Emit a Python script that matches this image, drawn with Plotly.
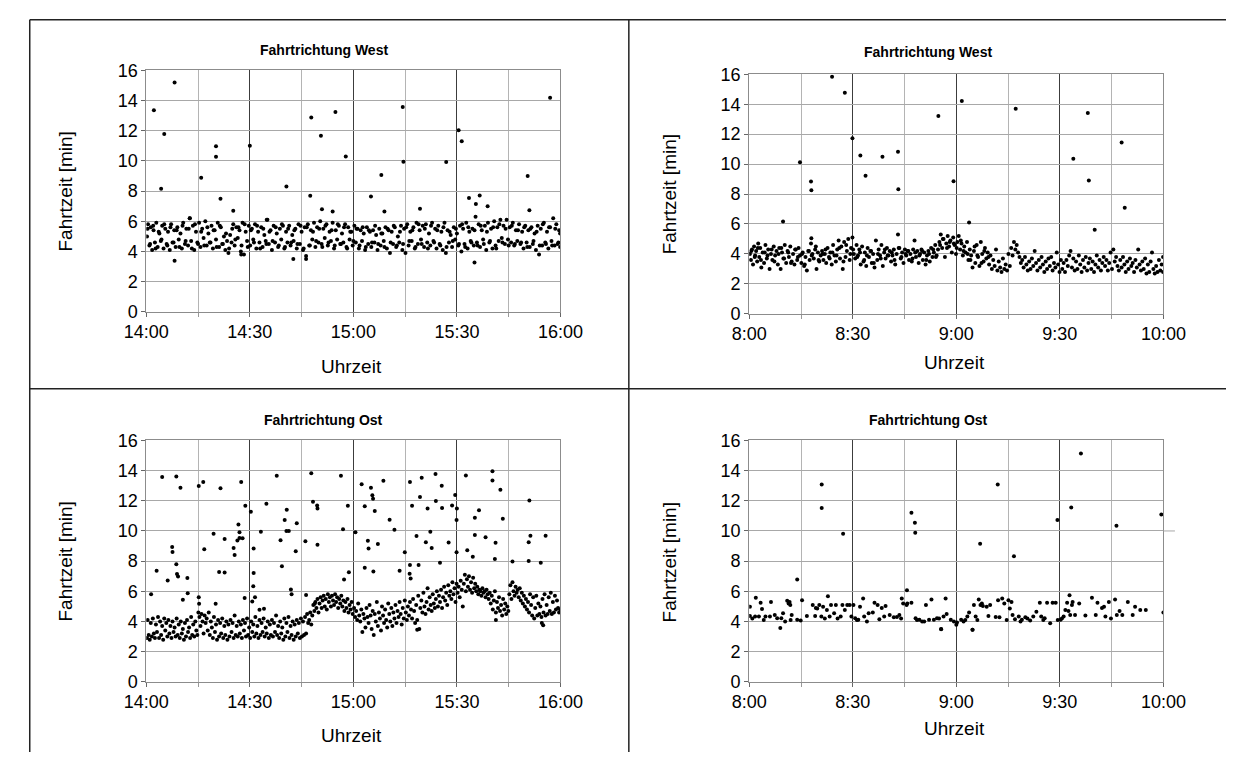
import plotly.graph_objects as go

# ---------------- DATA ----------------
tick_minutes = [0, 30, 60, 90, 120]
x_ticks_pm = ["14:00", "14:30", "15:00", "15:30", "16:00"]
x_ticks_am = ["8:00", "8:30", "9:00", "9:30", "10:00"]
y_ticks = [0, 2, 4, 6, 8, 10, 12, 14, 16]

titles = ["Fahrtrichtung West", "Fahrtrichtung West", "Fahrtrichtung Ost", "Fahrtrichtung Ost"]
x_title = "Uhrzeit"
y_title = "Fahrtzeit [min]"

# Top-left: West, 14:00-16:00 (minutes after 14:00)
tl_band_t = [0.2,0.5,0.9,1.3,1.7,2.1,2.5,2.9,3.3,3.8, 4.2,4.6,5.0,5.5,5.9,6.3,6.8,7.2,7.6,8.1,
             8.5,9.0,9.4,9.9,10.3,10.7,11.2,11.6,12.1,12.6, 13.0,13.5,13.9,14.4,14.8,15.3,15.7,16.2,16.6,17.1,
             17.5,18.0,18.4,18.9,19.3,19.8,20.2,20.7,21.1,21.6, 22.0,22.5,22.9,23.4,23.8,24.3,24.7,25.2,25.6,26.1,
             26.5,27.0,27.4,27.9,28.3,28.8,29.2,29.7,30.1,30.6, 31.0,31.5,31.9,32.4,32.8,33.3,33.7,34.2,34.6,35.1,
             35.5,36.0,36.4,36.9,37.3,37.8,38.2,38.7,39.1,39.6, 40.0,40.5,40.9,41.4,41.8,42.3,42.7,43.2,43.6,44.1,
             44.5,45.0,45.4,45.9,46.3,46.8,47.2,47.7,48.1,48.6, 49.0,49.5,49.9,50.4,50.8,51.3,51.7,52.2,52.6,53.1,
             53.5,54.0,54.4,54.9,55.3,55.8,56.2,56.7,57.1,57.6, 58.0,58.5,58.9,59.4,59.8,60.3,60.7,61.2,61.6,62.1,
             62.5,63.0,63.4,63.9,64.3,64.8,65.2,65.7,66.1,66.6, 67.0,67.5,67.9,68.4,68.8,69.3,69.7,70.2,70.6,71.1,
             71.5,72.0,72.4,72.9,73.3,73.8,74.2,74.7,75.1,75.6, 76.0,76.5,76.9,77.4,77.8,78.3,78.7,79.2,79.6,80.1,
             80.5,81.0,81.4,81.9,82.3,82.8,83.2,83.7,84.1,84.6, 85.0,85.5,85.9,86.4,86.8,87.3,87.7,88.2,88.6,89.1,
             89.5,90.0,90.4,90.9,91.3,91.8,92.2,92.7,93.1,93.6, 94.0,94.5,94.9,95.4,95.8,96.3,96.7,97.2,97.6,98.1,
             98.5,99.0,99.4,99.9,100.3,100.8,101.2,101.7,102.1,102.6, 103.0,103.5,103.9,104.4,104.8,105.3,105.7,106.2,106.6,107.1,
             107.5,108.0,108.4,108.9,109.3,109.8,110.2,110.7,111.1,111.6, 112.0,112.5,112.9,113.4,113.8,114.3,114.7,115.2,115.6,116.1,
             116.5,117.0,117.4,117.9,118.3,118.8,119.2,119.6,119.9,119.9]
tl_band_v = [5.0,5.8,4.4,5.6,4.1,5.4,4.6,5.9,4.3,5.2, 4.7,5.7,4.2,5.5,4.5,5.3,4.1,5.8,4.6,5.4,
             4.3,5.6,4.8,5.2,4.2,5.9,4.5,5.5,4.4,6.2, 4.7,5.7,4.1,5.3,4.6,5.9,4.3,5.5,4.9,6.0,
             4.4,5.2,4.6,5.7,4.2,5.4,4.8,5.9,4.3,5.6, 4.5,5.0,4.1,4.7,3.9,5.1,4.6,5.8,4.4,5.6,
             4.9,5.4,4.0,5.9,3.8,5.3,4.7,5.7,4.4,5.5, 4.8,5.8,4.2,5.3,4.6,5.6,4.3,5.1,4.7,6.1,
             4.5,5.4,4.1,5.7,4.6,5.2,4.3,5.5,4.8,5.7, 4.2,5.3,4.6,5.7,4.4,5.1,4.7,5.5,4.2,5.8,
             4.5,5.3,4.1,5.6,3.7,5.8,4.4,5.4,4.8,5.9, 4.3,5.6,4.6,6.0,4.5,5.5,4.9,5.8,4.4,5.3,
             4.7,5.9,4.2,5.4,4.8,5.7,4.5,5.2,4.6,5.8, 4.3,5.6,4.8,5.3,4.4,5.7,4.6,5.5,4.2,5.4,
             4.7,5.2,4.1,5.6,4.5,5.3,4.3,5.4,4.6,5.1, 4.1,5.5,4.4,5.2,4.7,5.6,4.2,5.4,3.9,5.3,
             4.5,5.6,4.3,5.0,4.6,5.7,4.1,5.5,3.9,5.8, 4.4,5.3,4.7,5.6,4.2,5.9,4.5,5.4,4.8,5.7,
             4.3,5.8,4.6,5.2,4.4,5.9,4.7,5.5,4.2,5.7, 4.5,5.3,4.1,5.9,3.9,5.4,4.6,5.1,4.3,5.6,
             4.8,5.2,4.4,5.7,4.0,5.5,4.5,5.9,4.2,5.3, 4.7,5.5,4.4,6.3,4.6,5.8,4.3,5.4,4.8,5.7,
             4.1,5.9,4.6,5.5,4.2,6.0,4.4,5.6,4.7,6.1, 4.9,5.7,4.5,6.1,4.8,5.6,4.6,5.9,4.4,5.4,
             4.7,5.8,4.5,5.3,4.2,5.7,4.6,5.4,4.3,5.6, 4.5,5.2,4.1,5.7,3.8,5.5,4.4,5.9,4.6,5.3,
             4.2,5.6,4.7,6.2,4.4,5.8,4.5,5.4,4.3,5.2]
tl_extra_t = [0.4,1.1,2.0,2.7,3.6,4.4,5.2,6.1,7.0,7.9, 8.8,9.6,10.5,11.4,12.3,13.2,14.1,15.0,15.9,16.8,
              17.7,18.6,19.5,20.4,21.3,22.2,23.1,24.0,24.9,25.8, 26.7,27.6,28.5,29.4,30.3,31.2,32.1,33.0,33.9,34.8,
              35.7,36.6,37.5,38.4,39.3,40.2,41.1,42.0,42.9,43.8, 44.7,45.6,46.5,47.4,48.3,49.2,50.1,51.0,51.9,52.8,
              53.7,54.6,55.5,56.4,57.3,58.2,59.1,60.0,60.9,61.8, 62.7,63.6,64.5,65.4,66.3,67.2,68.1,69.0,69.9,70.8,
              71.7,72.6,73.5,74.4,75.3,76.2,77.1,78.0,78.9,79.8, 80.7,81.6,82.5,83.4,84.3,85.2,86.1,87.0,87.9,88.8,
              89.7,90.6,91.5,92.4,93.3,94.2,95.1,96.0,96.9,97.8, 98.7,99.6,100.5,101.4,102.3,103.2,104.1,105.0,105.9,106.8,
              107.7,108.6,109.5,110.4,111.3,112.2,113.1,114.0,114.9,115.8, 116.7,117.6,118.5,119.4]
tl_extra_v = [5.5,4.5,5.7,4.2,5.3,4.8,5.8,4.4,5.6,4.6, 5.4,4.3,5.7,4.7,5.5,4.2,5.8,4.5,5.3,4.4,
              5.6,4.6,5.4,4.3,5.7,4.5,5.2,4.2,5.5,4.8, 5.6,4.4,5.8,4.3,5.4,4.6,5.7,4.2,5.5,4.5,
              5.3,4.7,5.6,4.4,5.8,4.3,5.5,4.6,5.4,4.5, 5.7,4.2,5.6,4.4,5.3,4.7,5.5,4.3,5.7,4.6,
              5.4,4.4,5.8,4.5,5.6,4.2,5.3,4.7,5.5,4.4, 5.6,4.3,5.4,4.6,5.7,4.5,5.2,4.3,5.5,4.6,
              5.7,4.4,5.3,4.5,5.6,4.7,5.4,4.3,5.8,4.5, 5.5,4.2,5.7,4.6,5.4,4.4,5.6,4.3,5.3,4.7,
              5.5,4.5,5.8,4.3,5.6,4.6,5.4,4.4,5.7,4.5, 5.3,4.7,5.6,4.2,5.8,4.6,5.5,4.4,5.7,4.5,
              5.4,4.6,5.6,4.3,5.5,4.7,5.3,4.4,5.8,4.5, 5.6,4.4,5.5,4.6]
tl_out_t = [2.2,5.2,4.3,8.2,8.2,15.9,20.2,20.2,21.5,25.2,30.0,40.6,42.6,46.3,47.5,47.8,50.6,50.9,54.0,54.8,57.8,
            65.1,68.1,69.0,74.3,74.5,79.3,86.9,90.5,91.4,93.5,95.5,96.6,98.9,95.1,110.5,111.0,117.0,12.6,34.9,27.5]
tl_out_v = [13.35,11.78,8.16,15.2,3.38,8.89,10.98,10.27,7.49,6.7,11.0,8.31,3.51,3.5,7.69,12.88,11.67,6.8,6.65,13.24,10.29,
            7.64,9.07,6.65,13.57,9.95,6.83,9.93,12.04,11.3,7.54,7.15,7.71,7.0,3.27,9.0,6.74,14.19,6.2,6.1,3.8]

# Top-right: West, 8:00-10:00 (minutes after 8:00)
tr_band_t = [0.2,0.5,0.8,1.1,1.4,1.7,2.0,2.3,2.6,2.9, 3.2,3.5,3.9,4.3,4.7,5.1,5.5,5.9,6.3,6.7,
             7.1,7.5,7.9,8.3,8.7,9.1,9.5,9.9,10.3,10.7, 11.1,11.5,11.9,12.3,12.7,13.1,13.5,13.9,14.3,14.7,
             15.1,15.5,15.9,16.3,16.7,17.1,17.5,17.9,18.3,18.7, 19.1,19.5,19.9,20.3,20.7,21.1,21.5,21.9,22.3,22.7,
             23.1,23.5,23.9,24.3,24.7,25.1,25.5,25.9,26.3,26.7, 27.1,27.5,27.9,28.3,28.7,29.1,29.5,29.9,30.3,30.7,
             31.1,31.5,31.9,32.3,32.7,33.1,33.5,33.9,34.3,34.7, 35.1,35.5,35.9,36.3,36.7,37.1,37.5,37.9,38.3,38.7,
             39.1,39.5,39.9,40.3,40.7,41.1,41.5,41.9,42.3,42.7, 43.1,43.5,43.9,44.3,44.7,45.1,45.5,45.9,46.3,46.7,
             47.1,47.5,47.9,48.3,48.7,49.1,49.5,49.9,50.3,50.7, 51.1,51.5,51.9,52.3,52.7,53.1,53.5,53.9,54.3,54.7,
             55.1,55.5,55.9,56.3,56.7,57.1,57.5,57.9,58.3,58.7, 59.1,59.5,59.9,60.3,60.7,61.1,61.5,61.9,62.3,62.7,
             63.1,63.5,63.9,64.3,64.7,65.1,65.5,65.9,66.3,66.7, 67.1,67.5,67.9,68.3,68.7,69.1,69.5,69.9,70.3,70.7,
             71.1,71.5,71.9,72.3,72.7,73.1,73.5,73.9,74.3,74.7, 75.1,75.5,75.9,76.3,76.7,77.1,77.5,77.9,78.3,78.7,
             79.1,79.5,79.9,80.3,80.7,81.1,81.5,81.9,82.3,82.7, 83.1,83.5,83.9,84.3,84.7,85.1,85.5,85.9,86.3,86.7,
             87.1,87.5,87.9,88.3,88.7,89.1,89.5,89.9,90.3,90.7, 91.1,91.5,91.9,92.3,92.7,93.1,93.5,93.9,94.3,94.7,
             95.1,95.5,95.9,96.3,96.7,97.1,97.5,97.9,98.3,98.7, 99.1,99.5,99.9,100.3,100.7,101.1,101.5,101.9,102.3,102.7,
             103.1,103.5,103.9,104.3,104.7,105.1,105.5,105.9,106.3,106.7, 107.1,107.5,107.9,108.3,108.7,109.1,109.5,109.9,110.3,110.7,
             111.1,111.5,111.9,112.3,112.7,113.1,113.5,113.9,114.3,114.7, 115.1,115.5,115.9,116.3,116.7,117.1,117.5,117.9,118.3,118.7,
             119.1,119.5,119.9,119.9]
tr_band_v = [4.0,3.6,4.3,3.3,4.5,3.9,4.2,3.5,4.7,3.8, 4.4,3.1,4.1,3.4,4.6,3.7,4.3,3.0,4.0,3.6,
             4.5,3.9,4.2,3.3,4.4,3.0,4.1,3.7,4.6,3.4, 4.2,3.8,4.5,3.5,4.0,3.3,4.3,3.6,4.4,3.9,
             3.4,4.1,3.2,3.8,2.9,4.2,3.6,4.7,4.0,3.7, 4.3,3.0,4.1,3.5,3.9,4.2,3.6,4.0,3.4,4.4,
             3.8,4.1,3.3,4.6,3.9,3.5,4.3,4.9,3.7,4.5, 3.0,4.8,3.8,4.2,5.0,3.6,4.4,5.1,4.0,3.7,
             4.6,3.9,4.3,3.3,4.5,3.5,4.1,3.2,4.4,3.8, 4.2,3.4,4.0,3.1,4.9,3.6,4.3,3.9,4.6,3.2,
             4.1,3.7,4.4,3.9,4.2,3.5,3.9,4.3,3.3,4.0, 5.3,4.4,3.7,4.1,3.4,4.3,3.9,4.2,3.6,4.0,
             3.5,4.3,4.9,3.8,4.2,3.4,4.0,4.3,3.6,4.1, 3.3,3.9,4.2,3.5,4.4,3.8,4.1,4.6,3.9,4.3,
             4.8,5.3,4.4,5.0,3.8,4.7,5.2,4.5,4.9,4.1, 5.1,4.6,4.0,4.8,5.2,4.3,4.7,3.9,4.5,4.1,
             4.8,3.6,4.3,3.9,3.1,4.2,3.4,4.6,3.8,3.2, 4.8,4.0,3.5,4.4,3.7,4.1,3.3,3.9,3.0,3.6,
             3.2,4.3,2.9,3.5,3.1,2.8,3.7,3.0,3.3,2.9, 4.0,3.2,4.4,3.9,4.8,4.3,4.6,4.1,3.8,3.4,
             3.6,3.1,3.8,3.3,2.9,3.5,3.0,3.7,3.2,4.2, 3.4,2.9,3.6,3.1,3.8,3.3,2.8,3.5,3.0,3.7,
             3.2,3.8,2.9,3.4,3.1,4.1,3.3,2.8,3.6,3.0, 3.4,2.8,3.6,3.2,3.9,4.2,3.1,3.7,2.9,3.5,
             3.0,3.9,3.3,2.8,3.6,3.1,3.8,2.9,3.4,3.7, 3.0,3.5,2.8,3.3,3.9,3.1,3.6,2.9,3.4,3.8,
             3.2,3.6,2.9,3.4,4.1,3.0,4.3,3.5,3.8,3.2, 2.9,3.6,3.1,3.8,3.3,2.8,3.5,3.0,3.7,3.2,
             3.4,2.8,3.6,3.1,4.3,3.3,2.9,3.5,3.0,3.7, 2.7,3.3,2.8,3.5,4.1,3.0,2.7,3.2,2.8,3.6,
             2.9,3.3,2.8,3.8]
tr_extra_t = [0.6,1.6,2.5,3.4,4.5,5.3,6.5,7.3,8.5,9.3, 10.1,11.3,12.1,13.3,14.1,15.3,16.1,17.3,18.1,19.3,
              20.1,21.3,22.1,23.3,24.1,25.3,26.1,27.3,28.1,29.3, 30.1,31.3,32.1,33.3,34.1,35.3,36.1,37.3,38.1,39.3,
              40.1,41.3,42.1,43.3,44.1,45.3,46.1,47.3,48.1,49.3, 50.1,51.3,52.1,53.3,54.1,55.3,56.1,57.3,58.1,59.3,
              60.1,61.3,62.1,63.3,64.1,65.3,66.1,67.3,68.1,69.3]
tr_extra_v = [4.2,3.8,4.4,3.6,4.1,3.9,4.3,3.5,4.0,4.4, 3.7,4.1,3.4,4.3,3.8,4.0,3.3,4.2,3.9,4.5,
              3.6,4.0,4.3,3.7,4.1,3.9,4.4,3.5,4.6,4.0, 4.3,3.8,4.1,3.6,3.9,4.2,3.4,4.0,3.7,4.3,
              3.9,4.1,3.6,4.4,3.8,4.0,4.2,3.7,4.1,3.9, 4.2,3.6,4.0,4.3,3.8,4.6,5.0,4.4,4.8,4.7,
              4.4,4.9,4.2,4.0,3.6,4.5,3.9,3.4,4.2,3.8]
tr_out_t = [9.8,14.7,17.9,18.0,18.0,24.0,27.7,29.9,32.2,33.7,38.6,43.1,43.2,54.8,59.2,61.6,63.7,77.2,
            93.9,98.1,98.4,100.1,107.9,108.8]
tr_out_v = [6.16,10.12,8.84,8.26,5.05,15.83,14.77,11.72,10.57,9.23,10.49,10.83,8.32,13.21,8.86,14.21,6.10,13.69,
            10.36,13.41,8.91,5.62,11.44,7.09]

# Bottom-left: Ost, 14:00-16:00
bl_band_t = [0.2,0.4,0.7,1.0,1.3,1.6,1.9,2.2,2.5,2.8, 3.1,3.4,3.7,4.0,4.3,4.6,4.9,5.2,5.5,5.8,
             6.1,6.4,6.7,7.0,7.3,7.6,7.9,8.2,8.5,8.8, 9.1,9.4,9.7,10.0,10.3,10.6,10.9,11.2,11.5,11.8,
             12.1,12.4,12.7,13.0,13.3,13.6,13.9,14.2,14.5,14.8, 15.1,15.4,15.7,16.0,16.3,16.6,16.9,17.2,17.5,17.8,
             18.1,18.4,18.7,19.0,19.3,19.6,19.9,20.2,20.5,20.8, 21.1,21.4,21.7,22.0,22.3,22.6,22.9,23.2,23.5,23.8,
             24.1,24.4,24.7,25.0,25.3,25.6,25.9,26.2,26.5,26.8, 27.1,27.4,27.7,28.0,28.3,28.6,28.9,29.2,29.5,29.8,
             30.1,30.4,30.7,31.0,31.3,31.6,31.9,32.2,32.5,32.8, 33.1,33.4,33.7,34.0,34.3,34.6,34.9,35.2,35.5,35.8,
             36.1,36.4,36.7,37.0,37.3,37.6,37.9,38.2,38.5,38.8, 39.1,39.4,39.7,40.0,40.3,40.6,40.9,41.2,41.5,41.8,
             42.1,42.4,42.7,43.0,43.3,43.6,43.9,44.2,44.5,44.8, 45.1,45.4,45.7,46.0,46.3,46.6,46.9,47.2,47.5,47.8,
             48.1,48.4,48.7,49.0,49.3,49.6,49.9,50.2,50.5,50.8, 51.1,51.4,51.7,52.0,52.3,52.6,52.9,53.2,53.5,53.8,
             54.1,54.4,54.7,55.0,55.3,55.6,55.9,56.2,56.5,56.8, 57.1,57.4,57.7,58.0,58.3,58.6,58.9,59.2,59.5,59.8,
             60.2,60.5,60.8,61.1,61.4,61.7,62.0,62.3,62.6,62.9, 63.2,63.5,63.8,64.1,64.4,64.7,65.0,65.3,65.6,65.9,
             66.2,66.5,66.8,67.1,67.4,67.7,68.0,68.3,68.6,68.9, 69.2,69.5,69.8,70.1,70.4,70.7,71.0,71.3,71.6,71.9,
             72.2,72.5,72.8,73.1,73.4,73.7,74.0,74.3,74.6,74.9, 75.2,75.5,75.8,76.1,76.4,76.7,77.0,77.3,77.6,77.9,
             78.2,78.5,78.8,79.1,79.4,79.7,80.0,80.3,80.6,80.9, 81.2,81.5,81.8,82.1,82.4,82.7,83.0,83.3,83.6,83.9,
             84.2,84.5,84.8,85.1,85.4,85.7,86.0,86.3,86.6,86.9, 87.2,87.5,87.8,88.1,88.4,88.7,89.0,89.3,89.6,89.9,
             90.2,90.5,90.8,91.1,91.4,91.7,92.0,92.3,92.6,92.9, 93.2,93.5,93.8,94.1,94.4,94.7,95.0,95.3,95.6,95.9,
             96.2,96.5,96.8,97.1,97.4,97.7,98.0,98.3,98.6,98.9, 99.2,99.5,99.8,100.1,100.4,100.7,101.0,101.3,101.6,101.9,
             102.2,102.5,102.8,103.1,103.4,103.7,104.0,104.3,104.6,104.9, 105.2,105.5,105.8,106.1,106.4,106.7,107.0,107.3,107.6,107.9,
             108.2,108.5,108.8,109.1,109.4,109.7,110.0,110.3,110.6,110.9, 111.2,111.5,111.8,112.1,112.4,112.7,113.0,113.3,113.6,113.9,
             114.2,114.5,114.8,115.1,115.4,115.7,116.0,116.3,116.6,116.9, 117.2,117.5,117.8,118.1,118.4,118.7,119.0,119.3,119.6,119.9]
bl_band_v = [2.9,4.1,3.1,2.8,3.9,3.0,4.2,3.2,2.9,3.8, 3.3,4.3,2.9,4.0,3.1,3.7,2.8,4.2,3.4,3.9,
             3.0,4.1,3.2,3.7,2.9,4.0,3.3,3.6,3.0,4.2, 3.1,3.8,2.9,4.0,3.2,3.5,2.8,3.9,3.0,4.1,
             3.3,3.6,2.9,4.3,3.1,3.8,3.0,4.0,3.4,3.1, 4.6,4.3,3.7,4.5,4.0,3.2,4.4,3.9,4.2,3.4,
             4.6,3.1,4.0,3.6,2.9,4.3,3.3,3.8,2.8,4.1, 3.0,3.9,3.2,4.2,2.9,3.7,3.1,4.0,2.8,3.8,
             3.0,4.1,3.3,3.9,2.9,4.4,3.1,3.7,3.0,4.0, 3.2,3.8,2.9,4.1,3.4,3.9,3.0,4.2,3.1,3.6,
             2.9,4.0,3.3,3.8,3.0,4.3,3.2,3.7,2.9,4.1, 3.1,3.9,3.3,4.2,3.0,3.6,3.2,4.0,2.9,3.8,
             3.1,4.1,3.0,3.9,3.3,4.4,3.1,3.7,2.9,4.0, 3.2,3.6,2.8,4.2,3.0,3.9,3.3,4.3,2.9,3.7,
             3.1,4.0,2.8,3.8,3.0,4.1,3.2,3.9,2.9,4.2, 3.0,4.0,3.1,4.3,3.2,4.5,3.9,4.1,4.6,3.8,
             4.4,5.1,4.7,5.3,4.9,5.5,4.6,5.2,5.6,4.9, 5.4,5.7,5.0,5.5,4.8,5.8,5.3,5.6,5.0,5.7,
             5.4,5.1,5.8,5.3,5.6,4.9,5.5,5.2,5.7,5.0, 5.4,4.7,5.3,4.9,5.5,4.6,5.1,4.8,5.3,4.5,
             4.9,4.3,4.7,4.1,5.2,4.4,4.0,4.8,3.3,4.5, 4.2,3.6,4.9,4.3,3.9,5.1,4.4,3.5,4.7,3.1,
             4.5,4.0,5.3,3.7,4.6,4.2,3.4,5.0,4.4,3.9, 4.8,4.1,3.6,5.2,4.5,4.0,4.9,3.7,4.6,4.2,
             5.1,3.9,4.7,4.3,5.3,4.5,3.8,4.9,4.2,5.4, 4.6,4.1,5.0,4.4,5.3,4.8,4.2,5.5,4.7,3.9,
             5.1,4.1,5.7,3.5,4.9,5.4,4.6,5.9,5.0,4.5, 5.3,6.2,4.8,5.6,5.1,4.7,5.8,5.2,4.9,5.5,
             6.0,5.0,5.7,5.3,6.1,4.9,5.6,6.3,5.4,5.9, 5.1,6.4,5.7,6.0,5.5,6.6,5.8,6.2,5.3,6.5,
             5.9,6.3,5.6,6.7,6.1,5.0,6.5,7.1,6.0,6.8, 6.3,7.0,6.1,6.6,5.9,6.9,6.2,6.5,6.0,6.3,
             5.8,6.1,6.0,5.7,6.2,5.9,6.0,5.6,6.1,5.8, 5.5,5.9,5.2,5.7,4.8,5.4,6.0,4.6,5.3,4.9,
             5.6,4.7,5.1,4.4,5.5,4.8,5.2,4.5,5.0,4.7, 5.8,6.4,5.5,6.6,6.0,5.7,6.3,5.9,6.1,5.6,
             6.2,5.4,5.9,5.2,5.7,5.0,5.5,4.8,5.3,4.6, 5.8,5.1,4.4,5.6,4.2,4.9,5.7,4.4,5.2,4.5,
             5.0,4.3,5.5,4.6,5.8,4.4,5.1,4.5,5.6,4.7, 5.9,4.5,5.3,4.6,5.7,4.8,5.4,4.9,4.6,4.8]
bl_out_t = [1.4,3.0,4.6,6.2,7.5,7.6,8.7,8.7,8.9,9.2,9.9,10.6,11.9,12.0,15.2,15.2,15.3,16.5,16.8,19.5,20.1,21.1,21.5,
            22.7,22.7,25.3,25.6,26.4,26.7,27.0,27.0,27.5,27.9,28.5,28.7,30.3,31.1,31.1,31.0,30.7,31.5,32.8,33.2,34.1,
            34.8,37.8,38.9,39.3,40.1,40.7,40.6,41.3,41.9,42.1,43.3,43.6,46.1,46.3,47.8,48.3,49.5,49.6,49.6,
            56.4,57.0,57.3,58.4,58.7,60.6,62.4,63.3,64.2,64.4,63.3,65.1,65.5,65.7,65.8,66.2,67.1,68.7,70.5,71.9,
            73.4,74.9,76.3,76.4,76.4,76.6,77.0,78.3,78.9,79.3,79.8,81.0,81.5,82.3,82.7,83.8,83.9,85.1,85.6,85.7,
            87.6,88.6,89.5,89.9,90.0,89.9,92.6,93.0,94.6,95.2,95.2,96.4,98.3,100.3,100.3,101.0,101.2,102.6,103.3,
            106.1,111.0,110.8,111.3,110.8,114.3,115.7,101.3,114.6,115.0,48.8,78.5]
bl_out_v = [5.81,7.36,13.57,6.72,8.94,8.61,13.61,7.80,7.15,6.98,12.86,5.45,6.89,5.88,12.98,5.60,5.17,13.24,8.79,9.82,5.17,
            7.28,12.83,7.24,9.47,8.87,8.40,9.37,10.42,9.91,9.54,13.24,9.52,5.56,11.67,11.28,8.83,7.21,6.33,5.32,5.60,4.78,
            9.95,4.84,11.80,13.65,9.39,7.67,10.72,11.41,9.99,9.99,6.12,5.81,8.66,10.51,9.32,5.75,13.82,11.93,11.69,11.48,
            9.09,13.65,10.12,6.78,11.67,7.26,9.91,13.09,11.63,9.35,8.83,7.56,12.86,12.36,12.14,7.32,11.33,9.13,13.33,
            10.75,10.08,7.36,8.59,7.17,13.24,7.75,6.85,11.67,9.67,7.75,12.25,13.52,9.26,11.48,9.95,8.87,13.78,11.99,
            7.90,13.0,11.52,9.24,11.69,12.38,10.72,11.48,8.59,13.67,8.72,8.29,10.87,9.73,11.37,9.58,13.95,13.35,8.14,
            9.22,12.73,10.81,7.97,12.02,9.26,9.69,8.01,7.90,9.69,4.1,3.9,3.75,5.17,3.45]

# Bottom-right: Ost, 8:00-10:00
br_band_t = [0.2,0.2,1.9,1.7,3.3,3.7,2.8,4.7,6.3,6.0,7.4,8.1,9.0,9.3,9.8,11.0,11.4,11.9,12.3,13.9,13.9,14.9,15.3,
             16.7,18.4,19.1,19.7,20.3,20.9,21.4,22.5,22.8,23.3,23.7,24.6,25.1,26.5,27.0,27.7,28.4,29.6,30.2,30.7,
             31.6,32.1,33.0,33.3,34.6,35.8,36.3,37.2,37.7,39.1,39.5,40.7,41.9,43.5,44.2,44.6,45.8,47.0,48.2,49.3,
             50.7,51.2,52.1,52.8,53.5,54.4,55.6,56.3,56.9,57.2,58.4,60.0,60.2,61.4,62.1,63.2,63.7,64.7,65.1,65.6,
             66.5,67.0,67.7,68.8,69.3,69.8,72.1,72.5,73.3,73.9,75.1,75.5,76.3,77.0,78.1,79.0,80.0,81.4,82.3,83.2,
             84.2,84.6,85.6,86.3,87.2,87.9,88.8,90.2,91.1,91.6,92.1,92.8,93.0,93.7,94.4,95.6,99.3,100.4,100.9,102.8,
             103.2,104.2,106.0,106.5,108.1,109.7,111.1,111.8,113.3,114.9,120.0,
             0.9,4.2,10.4,11.7,12.0,19.3,21.9,25.6,29.1,31.2,34.1,38.4,42.8,44.0,45.6,48.6,50.1,55.0,59.3,62.6,
             66.1,67.4,71.4,74.6,76.0,78.6,80.6,85.2,89.4,90.6,92.5,93.5,97.4,102.2,104.8,107.3]
br_band_v = [4.98,4.37,5.57,4.33,5.24,4.83,4.33,4.33,5.3,4.33,4.43,4.22,3.57,4.22,4.54,5.37,5.2,5.09,4.43,6.78,4.11,4.07,5.41,
             4.37,5.09,4.37,4.87,5.09,4.33,4.98,4.76,5.67,4.33,5.09,4.54,5.09,4.33,5.09,4.76,5.09,4.33,5.09,4.22,
             4.11,4.98,5.52,4.33,4.54,4.59,5.24,5.09,4.15,4.33,5.02,4.43,4.28,4.43,5.52,5.2,5.2,5.24,4.22,4.11,
             4.0,5.09,4.11,5.46,4.11,4.22,3.5,4.33,5.52,4.5,4.11,3.78,3.93,4.11,4.0,4.33,4.59,3.46,5.09,4.33,
             5.46,5.09,5.02,4.98,4.37,5.09,5.41,4.28,5.52,5.2,5.41,4.87,4.43,4.15,4.33,4.11,4.28,4.07,4.33,4.65,
             5.24,4.33,4.22,5.24,3.89,5.24,5.24,4.11,4.33,4.76,5.24,5.74,4.43,5.3,4.43,5.2,5.57,4.43,5.24,4.98,
             4.33,5.3,5.46,4.43,4.43,5.3,4.43,4.98,4.76,4.76,4.59,
             4.2,4.1,4.0,5.3,4.1,4.9,4.2,4.2,5.1,4.1,4.0,4.9,4.3,4.2,5.1,4.1,4.0,4.2,4.0,4.1,
             4.1,5.2,4.3,4.1,5.3,4.0,4.2,4.1,4.1,4.2,4.7,5.1,4.4,4.9,4.2,4.7]
br_out_t = [21.0,21.0,27.2,45.7,47.0,48.0,48.1,66.9,72.0,76.7,89.3,93.3,96.1,106.4,119.4,55.6,64.7]
br_out_v = [13.07,11.52,9.82,6.07,11.2,10.55,9.88,9.15,13.07,8.33,10.72,11.56,15.14,10.34,11.09,3.49,3.45]

# ---------------- LAYOUT HELPERS ----------------
W, H = 1249, 762

def px(x):
    return x / W

def py(y):
    return 1 - y / H

panels = [
    dict(t=tl_band_t + tl_extra_t + tl_out_t, v=tl_band_v + tl_extra_v + tl_out_v, ticks=x_ticks_pm,
         xd=[px(128), px(558)], yd=[py(310), py(62)],
         title=(312, 41), xt=(341, 366), yt=(44, 186)),
    dict(t=tr_band_t + tr_extra_t + tr_out_t, v=tr_band_v + tr_extra_v + tr_out_v, ticks=x_ticks_am,
         xd=[px(754), px(1184)], yd=[py(312), py(66)],
         title=(940, 43), xt=(967, 362), yt=(671, 189)),
    dict(t=bl_band_t + bl_out_t, v=bl_band_v + bl_out_v, ticks=x_ticks_pm,
         xd=[px(128), px(558)], yd=[py(690), py(442)],
         title=(312, 421), xt=(341, 745), yt=(44, 566)),
    dict(t=br_band_t + br_out_t, v=br_band_v + br_out_v, ticks=x_ticks_am,
         xd=[px(754), px(1184)], yd=[py(690), py(442)],
         title=(940, 421), xt=(967, 738), yt=(671, 567)),
]

FONT = "Liberation Sans, Arial, sans-serif"
fig = go.Figure()
annotations = []
layout_axes = {}

for i, p in enumerate(panels):
    n = "" if i == 0 else str(i + 1)
    fig.add_trace(go.Scatter(
        x=p["t"], y=p["v"], mode="markers",
        marker=dict(color="black", size=4, symbol="circle", line=dict(width=0)),
        xaxis="x" + n, yaxis="y" + n, showlegend=False, hoverinfo="x+y"))
    layout_axes["xaxis" + n] = dict(
        domain=p["xd"], anchor="y" + n, range=[0, 120],
        tickmode="array", tickvals=tick_minutes, ticktext=p["ticks"],
        showgrid=True, gridcolor="#3c3c3c", gridwidth=1,
        showline=True, linecolor="#8c8c8c", linewidth=1, mirror=True,
        ticks="outside", ticklen=4, tickcolor="#666",
        tickfont=dict(family=FONT, size=18, color="black"),
        minor=dict(dtick=15, tick0=0, showgrid=True, gridcolor="#b4b4b4", gridwidth=1,
                   ticks="outside", ticklen=4, tickcolor="#999"),
        zeroline=False, fixedrange=True)
    layout_axes["yaxis" + n] = dict(
        domain=p["yd"], anchor="x" + n, range=[0, 16],
        tickmode="array", tickvals=y_ticks,
        showgrid=True, gridcolor="#a8a8a8", gridwidth=1,
        showline=True, linecolor="#8c8c8c", linewidth=1, mirror=True,
        ticks="outside", ticklen=4, tickcolor="#666",
        tickfont=dict(family=FONT, size=18, color="black"),
        zeroline=False, fixedrange=True)
    annotations.append(dict(text="<b>" + titles[i] + "</b>", x=px(p["title"][0]), y=py(p["title"][1]),
                            xref="paper", yref="paper", showarrow=False, xanchor="center", yanchor="middle",
                            font=dict(family=FONT, size=14, color="black")))
    annotations.append(dict(text=x_title, x=px(p["xt"][0]), y=py(p["xt"][1]),
                            xref="paper", yref="paper", showarrow=False, xanchor="center", yanchor="middle",
                            font=dict(family=FONT, size=19, color="black")))
    annotations.append(dict(text=y_title, x=px(p["yt"][0]), y=py(p["yt"][1]), textangle=-90,
                            xref="paper", yref="paper", showarrow=False, xanchor="center", yanchor="middle",
                            font=dict(family=FONT, size=19, color="black")))

frame = dict(color="#222222", width=1.5)
shapes = [
    dict(type="line", xref="paper", yref="paper", x0=px(7), x1=1, y0=py(10), y1=py(10), line=frame),
    dict(type="line", xref="paper", yref="paper", x0=px(7), x1=px(7), y0=py(10), y1=0, line=frame),
    dict(type="line", xref="paper", yref="paper", x0=px(629), x1=px(629), y0=py(10), y1=0, line=frame),
    dict(type="line", xref="paper", yref="paper", x0=px(7), x1=1, y0=py(389), y1=py(389), line=frame),
    dict(type="line", xref="paper", yref="y4", x0=px(1184), x1=px(1196), y0=10, y1=10,
         line=dict(color="#a8a8a8", width=1)),
]

fig.update_layout(
    width=W, height=H, margin=dict(l=0, r=0, t=0, b=0),
    paper_bgcolor="white", plot_bgcolor="white",
    annotations=annotations, shapes=shapes, **layout_axes)

fig.write_html("out.html", config={"displayModeBar": False},
               post_script="document.body.style.margin='0px';document.body.style.overflow='hidden';")
